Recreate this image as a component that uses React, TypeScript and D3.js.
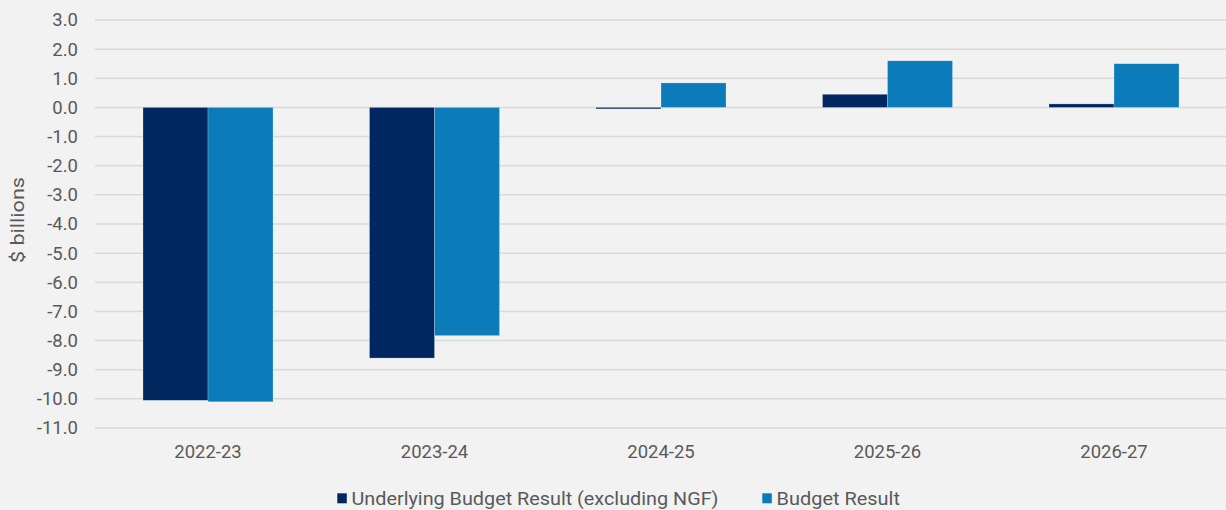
import React from "react";
import * as d3 from "d3";

const categories = ["2022-23", "2023-24", "2024-25", "2025-26", "2026-27"];
const seriesNames = ["Underlying Budget Result (excluding NGF)", "Budget Result"];
const underlying = [-10.05, -8.6, -0.05, 0.45, 0.12];
const budget = [-10.1, -7.83, 0.84, 1.6, 1.5];
const yTicks = [3, 2, 1, 0, -1, -2, -3, -4, -5, -6, -7, -8, -9, -10, -11];
const colors = ["#00275f", "#0b7bba"];

const W = 1226;
const H = 510;

export default function App() {
  const x = d3
    .scaleBand<string>()
    .domain(categories)
    .range([94.75, 1227.25])
    .paddingInner(0.426)
    .paddingOuter(0.213);
  const sub = d3
    .scaleBand<string>()
    .domain(seriesNames)
    .range([0, x.bandwidth()]);
  const y = d3.scaleLinear().domain([-11, 3]).range([428, 20]);
  const series = [underlying, budget];
  const font = "Roboto, 'Liberation Sans', Arial, sans-serif";

  return (
    <svg
      width={W}
      height={H}
      style={{ position: "fixed", top: 0, left: 0, background: "#f2f2f2" }}
    >
      <rect x={0} y={0} width={W} height={H} fill="#f2f2f2" />
      {yTicks.map((t) => (
        <g key={t}>
          <line
            x1={95}
            x2={W}
            y1={y(t)}
            y2={y(t)}
            stroke="#d9d9d9"
            strokeWidth={1.5}
          />
          <text
            x={78}
            y={y(t)}
            dy="0.35em"
            textAnchor="end"
            fontFamily={font}
            fontSize={18.5}
            fill="#595959"
          >
            {t.toFixed(1)}
          </text>
        </g>
      ))}
      {categories.map((c, i) => (
        <g key={c} transform={`translate(${x(c)},0)`}>
          {series.map((vals, si) => {
            const v = vals[i];
            const y0 = y(0);
            const y1 = y(v);
            return (
              <rect
                key={si}
                x={sub(seriesNames[si])}
                width={sub.bandwidth()}
                y={Math.min(y0, y1)}
                height={Math.max(1, Math.abs(y1 - y0))}
                fill={colors[si]}
                stroke="rgba(255,255,255,0.3)"
                strokeWidth={0.75}
              />
            );
          })}
          <text
            x={x.bandwidth() / 2}
            y={458}
            textAnchor="middle"
            fontFamily={font}
            fontSize={18.5}
            fill="#595959"
          >
            {c}
          </text>
        </g>
      ))}
      <text
        transform={`translate(24,220) rotate(-90)`}
        textAnchor="middle"
        fontFamily={font}
        fontSize={18}
        fill="#595959"
        textLength={86}
        lengthAdjust="spacingAndGlyphs"
      >
        $ billions
      </text>
      <g>
        <rect x={337.3} y={493.3} width={9.5} height={10} fill={colors[0]} />
        <text x={351.5} y={505} fontFamily={font} fontSize={19} fill="#595959" textLength={367} lengthAdjust="spacingAndGlyphs">
          {seriesNames[0]}
        </text>
        <rect x={762.3} y={493.3} width={9.5} height={10} fill={colors[1]} />
        <text x={776.5} y={505} fontFamily={font} fontSize={19} fill="#595959" textLength={123.5} lengthAdjust="spacingAndGlyphs">
          {seriesNames[1]}
        </text>
      </g>
    </svg>
  );
}
